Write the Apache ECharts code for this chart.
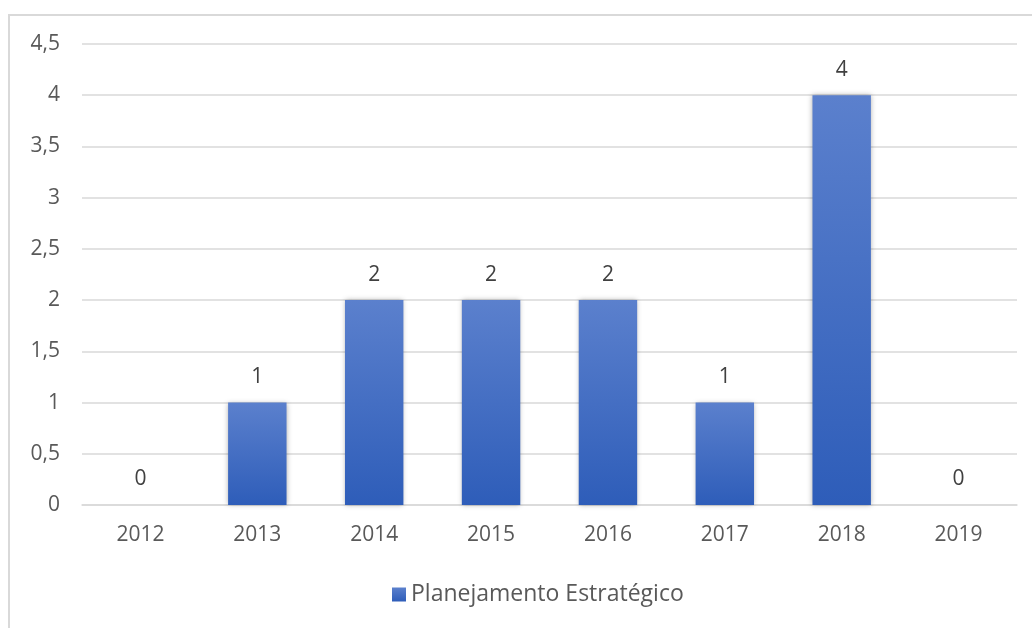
<!DOCTYPE html>
<html>
<head>
<meta charset="utf-8">
<style>
  html, body { margin: 0; padding: 0; background: #ffffff; }
  #frame { position: absolute; left: 8px; top: 14px; width: 1040px; height: 640px;
           border: 2px solid #d9d9d9; box-sizing: border-box; }
  #chart { position: absolute; left: 0; top: 0; width: 1032px; height: 628px; }
</style>
<script src="https://cdn.jsdelivr.net/npm/echarts@6/dist/echarts.min.js"></script>
</head>
<body>
<div id="frame"></div>
<div id="chart"></div>
<script>
// Publicações por ano
const years = ['2012', '2013', '2014', '2015', '2016', '2017', '2018', '2019'];
const planejamento = [0, 1, 2, 2, 2, 1, 4, 0];
const yTicks = [0, 0.5, 1, 1.5, 2, 2.5, 3, 3.5, 4, 4.5];
const seriesName = 'Planejamento Estratégico';

const font = '"Open Sans", "Noto Sans", sans-serif';
const barFill = new echarts.graphic.LinearGradient(0, 0, 0, 1, [
  { offset: 0, color: '#5b80cd' },
  { offset: 1, color: '#2e5db9' }
]);

const chart = echarts.init(document.getElementById('chart'), null, { renderer: 'canvas' });
chart.setOption({
  animation: false,
  grid: { left: 82, right: 15, top: 44, bottom: 123, containLabel: false },
  legend: {
    data: [{ name: seriesName, icon: 'rect' }],
    bottom: 17,
    left: 387,
    itemWidth: 14,
    itemHeight: 14,
    itemGap: 6,
    textStyle: { color: '#595959', fontSize: 23, fontFamily: font }
  },
  xAxis: {
    type: 'category',
    data: years,
    axisLine: { show: true, lineStyle: { color: '#d9d9d9', width: 1.5 } },
    axisTick: { show: false },
    axisLabel: { color: '#595959', fontSize: 21, fontFamily: font, margin: 20 }
  },
  yAxis: {
    type: 'value',
    min: 0,
    max: yTicks[yTicks.length - 1],
    interval: 0.5,
    axisLine: { show: false },
    axisTick: { show: false },
    splitLine: { lineStyle: { color: '#d9d9d9', width: 1.5 } },
    axisLabel: {
      color: '#595959', fontSize: 21, fontFamily: font, margin: 22,
      formatter: v => String(v).replace('.', ',')
    }
  },
  series: [{
    name: seriesName,
    type: 'bar',
    data: planejamento,
    barWidth: '50%',
    itemStyle: {
      color: barFill,
      shadowColor: 'rgba(0,0,0,0.3)',
      shadowBlur: 5,
      shadowOffsetX: 0,
      shadowOffsetY: 0
    },
    label: {
      show: true,
      position: 'top',
      distance: 15,
      color: '#404040',
      fontSize: 21,
      fontFamily: font
    }
  }]
});
</script>
</body>
</html>
